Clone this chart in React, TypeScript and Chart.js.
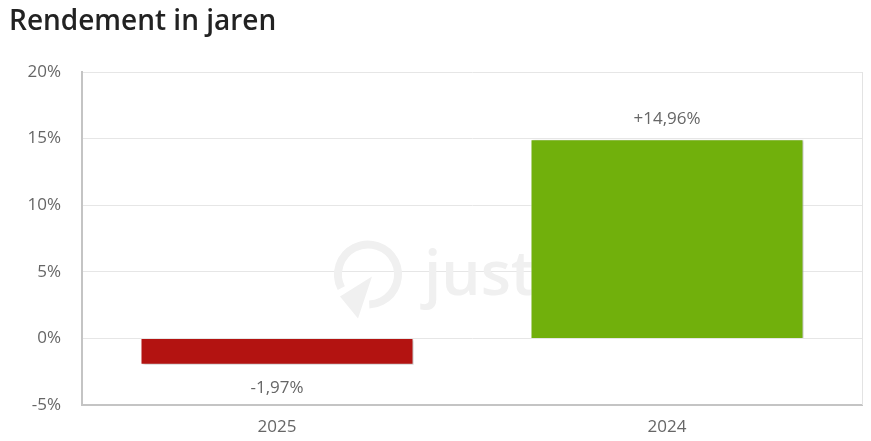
import React, { useEffect, useRef } from "react";
import { Chart, registerables } from "chart.js";

Chart.register(...registerables);

const categories = ["2025", "2024"];
const returns = [-1.97, 14.96];
const barColors = ["#b31311", "#71b00c"];
const yTicks = { min: -5, max: 20, step: 5 };
const titleText = "Rendement in jaren";

const FONT = "'Open Sans', 'Noto Sans', sans-serif";

function fmt(v: number) {
  const s = Math.abs(v).toFixed(2).replace(".", ",");
  return (v >= 0 ? "+" : "-") + s + "%";
}

const extras = {
  id: "extras",
  beforeDatasetsDraw(chart: any) {
    const { ctx, chartArea } = chart;
    const cx = (chartArea.left + chartArea.right) / 2;
    const cy = (chartArea.top + chartArea.bottom) / 2;
    ctx.save();
    ctx.strokeStyle = "#f0f0f0";
    ctx.fillStyle = "#f0f0f0";
    ctx.lineWidth = 8;
    const lx = cx - 104;
    const ly = cy + 36;
    ctx.beginPath();
    ctx.arc(lx, ly, 30, Math.PI * 0.85, Math.PI * 0.55 + Math.PI * 2 - 0.2);
    ctx.stroke();
    ctx.beginPath();
    ctx.moveTo(lx - 28, ly + 22);
    ctx.lineTo(lx + 4, ly + 2);
    ctx.lineTo(lx - 10, ly + 44);
    ctx.closePath();
    ctx.fill();
    ctx.font = `600 62px ${FONT}`;
    ctx.textBaseline = "alphabetic";
    ctx.textAlign = "left";
    ctx.fillText("justETF", lx + 56, ly + 20);
    ctx.restore();
    ctx.save();
    ctx.shadowColor = "rgba(0,0,0,0.22)";
    ctx.shadowOffsetX = 2;
    ctx.shadowOffsetY = 1;
    ctx.shadowBlur = 2;
  },
  afterDatasetsDraw(chart: any) {
    const { ctx, chartArea } = chart;
    ctx.restore();
    ctx.save();
    ctx.strokeStyle = "#e3e3e3";
    ctx.lineWidth = 1;
    ctx.beginPath();
    ctx.moveTo(chartArea.right + 0.5, chartArea.top);
    ctx.lineTo(chartArea.right + 0.5, chartArea.bottom);
    ctx.stroke();
    const meta = chart.getDatasetMeta(0);
    ctx.font = `17px ${FONT}`;
    ctx.fillStyle = "#666666";
    ctx.textAlign = "center";
    ctx.textBaseline = "middle";
    meta.data.forEach((el: any, i: number) => {
      const v = returns[i];
      const props = el.getProps(["x", "y", "base"], true);
      if (v >= 0) ctx.fillText(fmt(v), props.x, props.y - 20);
      else ctx.fillText(fmt(v), props.x, props.y + 24);
    });
    ctx.font = `600 28px ${FONT}`;
    ctx.fillStyle = "#222222";
    ctx.textAlign = "left";
    ctx.textBaseline = "middle";
    ctx.fillText(titleText, 9, 22);
    ctx.restore();
  },
};

export default function App() {
  const ref = useRef<HTMLCanvasElement | null>(null);
  useEffect(() => {
    document.body.style.margin = "0";
    const chart = new Chart(ref.current as HTMLCanvasElement, {
      type: "bar",
      data: {
        labels: categories,
        datasets: [
          {
            data: returns,
            backgroundColor: barColors,
            borderColor: "#ffffff",
            borderWidth: 1,
            categoryPercentage: 0.7,
            barPercentage: 1,
          },
        ],
      },
      options: {
        animation: false,
        responsive: false,
        maintainAspectRatio: false,
        layout: { padding: { left: 0, right: 9, top: 72, bottom: 0 } },
        plugins: {
          legend: { display: false },
          tooltip: { enabled: false },
          title: { display: false },
        },
        scales: {
          x: {
            grid: { display: false, drawTicks: false },
            border: { display: true, color: "#c4c4c4", width: 2 },
            ticks: {
              color: "#666666",
              font: { family: FONT, size: 17 },
              padding: 12,
            },
            afterFit(scale: any) {
              scale.height = 36;
            },
          },
          y: {
            min: yTicks.min,
            max: yTicks.max,
            grid: { color: "#e6e6e6", lineWidth: 1, drawTicks: false },
            border: { display: true, color: "#c4c4c4", width: 2 },
            ticks: {
              stepSize: yTicks.step,
              color: "#666666",
              font: { family: FONT, size: 17 },
              padding: 21,
              callback: (v: any) => v + "%",
            },
            afterFit(scale: any) {
              scale.width = 82;
            },
          },
        },
      },
      plugins: [extras],
    });
    return () => chart.destroy();
  }, []);
  return (
    <div style={{ position: "fixed", left: 0, top: 0, width: 871, height: 441, background: "#fff" }}>
      <canvas ref={ref} width={871} height={441} style={{ width: 871, height: 441 }} />
    </div>
  );
}
